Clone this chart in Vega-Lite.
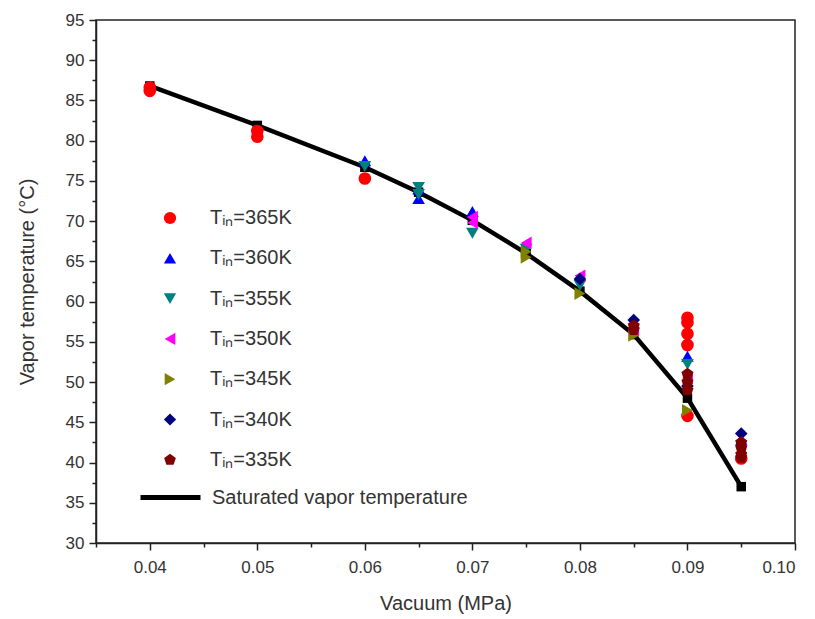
{
  "$schema": "https://vega.github.io/schema/vega-lite/v6.json",
  "width": 699,
  "height": 523,
  "autosize": {"type": "none"},
  "padding": {"left": 96, "top": 20, "right": 20, "bottom": 76},
  "background": "white",
  "config": {
    "font": "Liberation Sans",
    "view": {"stroke": "#222", "strokeWidth": 1.5},
    "axis": {
      "domainColor": "#222", "domainWidth": 1.5,
      "tickColor": "#222", "tickWidth": 1.5,
      "labelColor": "#333", "labelFontSize": 17, "labelFont": "Liberation Sans",
      "titleColor": "#333", "titleFontSize": 20, "titleFontWeight": "normal", "titleFont": "Liberation Sans",
      "grid": false, "labelOverlap": false
    },
    "legend": {"labelFont": "Liberation Sans", "labelColor": "#333"}
  },
  "datasets": {
    "sat": [
      {"p": 0.04, "T": 86.8, "name": "Saturated vapor temperature"},
      {"p": 0.05, "T": 81.9, "name": "Saturated vapor temperature"},
      {"p": 0.06, "T": 76.7, "name": "Saturated vapor temperature"},
      {"p": 0.065, "T": 73.6, "name": "Saturated vapor temperature"},
      {"p": 0.07, "T": 70.1, "name": "Saturated vapor temperature"},
      {"p": 0.075, "T": 66.0, "name": "Saturated vapor temperature"},
      {"p": 0.08, "T": 61.3, "name": "Saturated vapor temperature"},
      {"p": 0.085, "T": 55.9, "name": "Saturated vapor temperature"},
      {"p": 0.09, "T": 48.0, "name": "Saturated vapor temperature"},
      {"p": 0.095, "T": 37.0, "name": "Saturated vapor temperature"}
    ],
    "pts": [
      {"p": 0.04, "T": 86.2, "s": "Tᵢₙ=365K"},
      {"p": 0.04, "T": 86.6, "s": "Tᵢₙ=365K"},
      {"p": 0.05, "T": 80.5, "s": "Tᵢₙ=365K"},
      {"p": 0.05, "T": 81.2, "s": "Tᵢₙ=365K"},
      {"p": 0.06, "T": 75.3, "s": "Tᵢₙ=365K"},
      {"p": 0.09, "T": 58.0, "s": "Tᵢₙ=365K"},
      {"p": 0.09, "T": 57.4, "s": "Tᵢₙ=365K"},
      {"p": 0.09, "T": 56.0, "s": "Tᵢₙ=365K"},
      {"p": 0.09, "T": 54.6, "s": "Tᵢₙ=365K"},
      {"p": 0.09, "T": 45.8, "s": "Tᵢₙ=365K"},
      {"p": 0.095, "T": 40.5, "s": "Tᵢₙ=365K"},
      {"p": 0.06, "T": 77.5, "s": "Tᵢₙ=360K"},
      {"p": 0.065, "T": 72.8, "s": "Tᵢₙ=360K"},
      {"p": 0.065, "T": 74.0, "s": "Tᵢₙ=360K"},
      {"p": 0.07, "T": 71.2, "s": "Tᵢₙ=360K"},
      {"p": 0.09, "T": 53.2, "s": "Tᵢₙ=360K"},
      {"p": 0.095, "T": 42.8, "s": "Tᵢₙ=360K"},
      {"p": 0.06, "T": 76.8, "s": "Tᵢₙ=355K"},
      {"p": 0.065, "T": 74.2, "s": "Tᵢₙ=355K"},
      {"p": 0.065, "T": 73.3, "s": "Tᵢₙ=355K"},
      {"p": 0.07, "T": 68.5, "s": "Tᵢₙ=355K"},
      {"p": 0.075, "T": 66.5, "s": "Tᵢₙ=355K"},
      {"p": 0.08, "T": 62.0, "s": "Tᵢₙ=355K"},
      {"p": 0.09, "T": 52.2, "s": "Tᵢₙ=355K"},
      {"p": 0.07, "T": 70.5, "s": "Tᵢₙ=350K"},
      {"p": 0.07, "T": 69.8, "s": "Tᵢₙ=350K"},
      {"p": 0.075, "T": 67.3, "s": "Tᵢₙ=350K"},
      {"p": 0.08, "T": 63.2, "s": "Tᵢₙ=350K"},
      {"p": 0.085, "T": 56.5, "s": "Tᵢₙ=350K"},
      {"p": 0.09, "T": 50.5, "s": "Tᵢₙ=350K"},
      {"p": 0.075, "T": 65.5, "s": "Tᵢₙ=345K"},
      {"p": 0.075, "T": 66.2, "s": "Tᵢₙ=345K"},
      {"p": 0.08, "T": 61.0, "s": "Tᵢₙ=345K"},
      {"p": 0.085, "T": 55.8, "s": "Tᵢₙ=345K"},
      {"p": 0.09, "T": 46.5, "s": "Tᵢₙ=345K"},
      {"p": 0.08, "T": 62.8, "s": "Tᵢₙ=340K"},
      {"p": 0.085, "T": 57.7, "s": "Tᵢₙ=340K"},
      {"p": 0.09, "T": 49.5, "s": "Tᵢₙ=340K"},
      {"p": 0.095, "T": 43.6, "s": "Tᵢₙ=340K"},
      {"p": 0.085, "T": 56.5, "s": "Tᵢₙ=335K"},
      {"p": 0.085, "T": 57.0, "s": "Tᵢₙ=335K"},
      {"p": 0.09, "T": 51.0, "s": "Tᵢₙ=335K"},
      {"p": 0.09, "T": 50.0, "s": "Tᵢₙ=335K"},
      {"p": 0.09, "T": 49.0, "s": "Tᵢₙ=335K"},
      {"p": 0.095, "T": 42.5, "s": "Tᵢₙ=335K"},
      {"p": 0.095, "T": 41.8, "s": "Tᵢₙ=335K"},
      {"p": 0.095, "T": 41.0, "s": "Tᵢₙ=335K"},
      {"p": 0.095, "T": 40.6, "s": "Tᵢₙ=335K"}
    ]
  },
  "encoding": {
    "x": {
      "field": "p", "type": "quantitative",
      "scale": {"domain": [0.035, 0.1], "nice": false, "zero": false},
      "axis": {
        "title": "Vacuum (MPa)",
        "values": [0.035, 0.04, 0.045, 0.05, 0.055, 0.06, 0.065, 0.07, 0.075, 0.08, 0.085, 0.09, 0.095, 0.1],
        "labelExpr": "round(datum.value*1000) % 10 === 0 ? format(datum.value, '.2f') : ''",
        "tickSize": {"condition": {"test": "round(datum.value*1000) % 10 === 0", "value": 7}, "value": 4},
        "labelPadding": 9,
        "titlePadding": 18
      }
    },
    "y": {
      "field": "T", "type": "quantitative",
      "scale": {"domain": [30, 95], "nice": false, "zero": false},
      "axis": {
        "title": "Vapor temperature (°C)",
        "values": [30, 32.5, 35, 37.5, 40, 42.5, 45, 47.5, 50, 52.5, 55, 57.5, 60, 62.5, 65, 67.5, 70, 72.5, 75, 77.5, 80, 82.5, 85, 87.5, 90, 92.5, 95],
        "labelExpr": "datum.value % 5 === 0 ? datum.label : ''",
        "tickSize": {"condition": {"test": "datum.value % 5 === 0", "value": 7}, "value": 4},
        "labelPadding": 5,
        "titlePadding": 28
      }
    }
  },
  "layer": [
    {
      "data": {"name": "sat"},
      "mark": {"type": "line", "strokeWidth": 4.5, "color": "black"},
      "encoding": {
        "stroke": {
          "field": "name", "type": "nominal",
          "scale": {"range": ["black"]},
          "legend": {
            "title": null, "orient": "none", "legendX": 42, "legendY": 445,
            "symbolType": "stroke", "symbolStrokeWidth": 5, "symbolSize": 3600,
            "labelFontSize": 20, "labelOffset": 9, "labelLimit": 0
          }
        }
      }
    },
    {
      "data": {"name": "sat"},
      "mark": {"type": "square", "filled": true, "color": "black", "size": 90, "opacity": 1},
      "encoding": {}
    },
    {
      "data": {"name": "pts"},
      "mark": {"type": "point", "filled": true, "size": 160, "opacity": 1},
      "encoding": {
        "color": {
          "field": "s", "type": "nominal",
          "scale": {
            "domain": ["Tᵢₙ=365K", "Tᵢₙ=360K", "Tᵢₙ=355K", "Tᵢₙ=350K", "Tᵢₙ=345K", "Tᵢₙ=340K", "Tᵢₙ=335K"],
            "range": ["#ff0000", "#0000ff", "#008080", "#ff00ff", "#808000", "#000080", "#800000"]
          },
          "legend": {
            "title": null, "orient": "none", "legendX": 64, "legendY": 188,
            "labelFontSize": 20, "symbolSize": 150, "rowPadding": 20.3, "labelOffset": 30,
            "symbolStrokeWidth": 0
          }
        },
        "shape": {
          "field": "s", "type": "nominal",
          "scale": {
            "domain": ["Tᵢₙ=365K", "Tᵢₙ=360K", "Tᵢₙ=355K", "Tᵢₙ=350K", "Tᵢₙ=345K", "Tᵢₙ=340K", "Tᵢₙ=335K"],
            "range": ["circle", "triangle-up", "triangle-down", "triangle-left", "triangle-right", "diamond", "M0,-1L0.951,-0.309L0.588,0.809L-0.588,0.809L-0.951,-0.309Z"]
          }
        }
      }
    }
  ]
}
